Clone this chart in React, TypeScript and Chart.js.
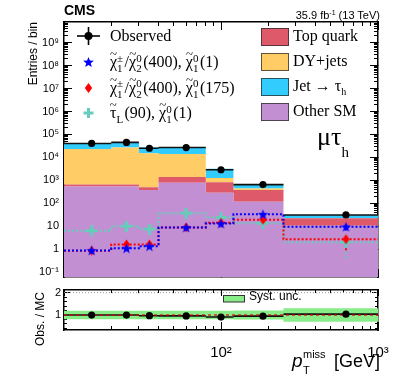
import React, { useEffect, useRef } from 'react';
import { Chart, registerables } from 'chart.js';

Chart.register(...registerables);

// ---------------- data ----------------
const binEdges = [10, 20, 30, 40, 80, 120, 250, 1000];
const otherSM = [535, 535, 375, 775, 285, 117, 10.5];
const topQuark = [115, 115, 130, 625, 545, 258, 11.5];
const dyJets = [22350, 26350, 14500, 12600, 430, 65, 0.5];
const jetTau = [18000, 18000, 12000, 13000, 1940, 210, 8.5];
const observed = [40500, 45000, 25000, 26900, 2900, 650, 31];
const sigChargino1 = [0.88, 1.1, 1.35, 8.8, 13, 33, 9.5];
const sigChargino1Err = [0.15, 0.2, 0.25, 1.0, 1.5, 3, 3];
const sigChargino175 = [0.85, 1.6, 1.6, 8.8, 14, 19, 2.7];
const sigChargino175Err = [0.15, 0.3, 0.3, 1.0, 1.5, 2.5, 1.8];
const sigStau = [6.4, 10, 7.5, 37, 24, 13.6, 2.0];
const sigStauErr = [1.0, 1.5, 1.2, 4, 3, 2.5, 1.6];
const ratio = [1.0, 1.0, 0.97, 0.96, 0.91, 0.95, 1.04];
const systUnc = [0.19, 0.19, 0.19, 0.19, 0.19, 0.2, 0.3];

const mainYTickValues = [0.1, 1, 10, 1e2, 1e3, 1e4, 1e5, 1e6, 1e7, 1e8, 1e9];
const mainYTickLabels = ['10⁻¹', '1', '10', '10²', '10³', '10⁴', '10⁵', '10⁶', '10⁷', '10⁸', '10⁹'];
const xMajorTicks = [10, 100, 1000];
const xTickValues = [100, 1000];
const xTickLabels = ['10²', '10³'];
const ratioYTickValues = [1, 2];
const ratioYTickLabels = ['1', '2'];
const ratioYMinorTicks = [0.4, 0.6, 0.8, 1.2, 1.4, 1.6, 1.8];
const ratioRefLine = 2;
const ratioUnity = 1;

const xMin = 10;
const xMax = 1000;
const yMin = 0.061;
const yMax = 8e9;
const rMin = 0.33;
const rMax = 2.12;

// ---------------- styles ----------------
const SANS = "'Liberation Sans', Arial, Helvetica, sans-serif";
const SERIF = "'Liberation Serif', 'Times New Roman', serif";
const C_OTHER = '#c28fd2';
const C_TOP = '#de5a6b';
const C_DY = '#ffcc66';
const C_JET = '#33ccff';
const C_BLUE = '#0000ff';
const C_RED = '#ff0000';
const C_CYAN = '#66ccbb';
const C_BAND = '#88ec88';

Chart.defaults.font.family = SANS;

// ---------------- helpers ----------------
const nBins = binEdges.length - 1;
const centers = binEdges.slice(0, -1).map((e, i) => (e + binEdges[i + 1]) / 2);
const stepData = (vals: number[]) => [
  ...vals.map((v, i) => ({ x: binEdges[i], y: v })),
  { x: binEdges[nBins], y: vals[nBins - 1] },
];
const cumulate = (...arrs: number[][]) => arrs[0].map((_, i) => arrs.reduce((s, a) => s + a[i], 0));
const hSegs = (vals: number[]) =>
  vals.flatMap((v, i) => [
    { x: binEdges[i], y: v },
    { x: binEdges[i + 1], y: v },
    { x: binEdges[i + 1], y: null },
  ]);
const vSegs = (vals: number[], errs: number[]) =>
  vals.flatMap((v, i) => [
    { x: centers[i], y: Math.max(v - errs[i], 1e-3) },
    { x: centers[i], y: v + errs[i] },
    { x: centers[i], y: null },
  ]);
const pts = (vals: number[]) => vals.map((v, i) => ({ x: centers[i], y: v }));
const minorLog = (lo: number, hi: number) => {
  const out: number[] = [];
  for (let e = Math.floor(Math.log10(lo)); e <= Math.ceil(Math.log10(hi)); e++) {
    for (let m = 2; m <= 9; m++) {
      const v = m * Math.pow(10, e);
      if (v > lo && v < hi) out.push(v);
    }
  }
  return out;
};

function axis(c: any) {
  return {
    type: c.type,
    position: c.position,
    min: c.min,
    max: c.max,
    bounds: 'data',
    weight: c.weight ?? 0,
    afterBuildTicks: (s: any) => {
      s.ticks = c.values.map((v: number) => ({ value: v }));
    },
    afterFit: (s: any) => {
      if (c.position === 'left' || c.position === 'right') s.width = c.size;
      else s.height = c.size;
      s.paddingTop = 0;
      s.paddingBottom = 0;
      s.paddingLeft = 0;
      s.paddingRight = 0;
    },
    grid: {
      display: true,
      drawOnChartArea: false,
      drawTicks: true,
      tickLength: -c.len,
      tickColor: '#000',
      tickWidth: 1,
    },
    border: { display: !!c.border, color: '#000', width: 1.5 },
    ticks: c.labels
      ? {
          display: true,
          autoSkip: false,
          maxRotation: 0,
          minRotation: 0,
          padding: c.padding ?? 0,
          color: '#000',
          font: { size: c.fontSize ?? 11, family: SANS },
          callback: (_v: any, i: number) => c.labels[i],
        }
      : { display: false, autoSkip: false },
    title: c.title ?? { display: false },
  };
}

function markerCanvas(draw: (g: CanvasRenderingContext2D, s: number) => void, s: number) {
  const cv = document.createElement('canvas');
  cv.width = s;
  cv.height = s;
  const g = cv.getContext('2d')!;
  draw(g, s);
  return cv;
}

function Txt(p: any) {
  const family = p.family ?? SANS;
  const k = family === SERIF ? 0.8375 : 0.8465;
  const style: any = {
    position: 'absolute',
    top: p.baseline - k * p.size,
    fontSize: p.size,
    lineHeight: `${p.size}px`,
    fontFamily: family,
    whiteSpace: 'nowrap',
    color: p.color ?? '#000',
    fontStyle: p.italic ? 'italic' : 'normal',
    fontWeight: p.bold ? 'bold' : 'normal',
  };
  if (p.right !== undefined) style.right = 399 - p.right;
  else style.left = p.x;
  return <div style={style}>{p.children}</div>;
}

function SS(p: any) {
  const f = p.f ?? 11;
  const raise = p.raise ?? 5;
  const drop = p.drop ?? 5.5;
  const k = (p.family ?? SERIF) === SERIF ? 0.8375 : 0.8465;
  const base: any = { position: 'absolute', left: 0, fontSize: f, lineHeight: `${f}px`, whiteSpace: 'nowrap', fontStyle: 'normal' };
  return (
    <span style={{ position: 'relative', display: 'inline-block', width: p.w, height: 0 }}>
      {p.sup != null && <span style={{ ...base, top: -raise - k * f }}>{p.sup}</span>}
      {p.sub != null && <span style={{ ...base, top: drop - k * f }}>{p.sub}</span>}
    </span>
  );
}

// Greek letter with a tilde placed above it
function Tilde(p: any) {
  return (
    <span style={{ position: 'relative', display: 'inline-block' }}>
      {p.children}
      <span style={{ position: 'absolute', left: '50%', top: p.top ?? -8, transform: 'translateX(-50%)', fontSize: '0.8em' }}>~</span>
    </span>
  );
}

export default function App() {
  const mainRef = useRef<HTMLCanvasElement>(null);
  const ratioRef = useRef<HTMLCanvasElement>(null);

  useEffect(() => {
    const starImg = markerCanvas((g, s) => {
      g.fillStyle = C_BLUE;
      g.beginPath();
      for (let i = 0; i < 10; i++) {
        const a = -Math.PI / 2 + (i * Math.PI) / 5;
        const r = i % 2 ? s * 0.21 : s * 0.5;
        g.lineTo(s / 2 + r * Math.cos(a), s / 2 + r * Math.sin(a) + s * 0.05);
      }
      g.closePath();
      g.fill();
    }, 11);
    const diamondImg = markerCanvas((g, s) => {
      g.fillStyle = C_RED;
      g.beginPath();
      g.moveTo(s / 2, 0.5);
      g.lineTo(s / 2 + 3.6, s / 2);
      g.lineTo(s / 2, s - 0.5);
      g.lineTo(s / 2 - 3.6, s / 2);
      g.closePath();
      g.fill();
    }, 11);
    const crossImg = markerCanvas((g, s) => {
      g.fillStyle = C_CYAN;
      g.fillRect(s / 2 - 1.5, 0, 3, s);
      g.fillRect(0, s / 2 - 1.5, s, 3);
    }, 11);

    const cumOther = otherSM;
    const cumTop = cumulate(otherSM, topQuark);
    const cumDY = cumulate(otherSM, topQuark, dyJets);
    const cumJet = cumulate(otherSM, topQuark, dyJets, jetTau);

    const stackDs = (vals: number[], color: string, fill: any) => ({
      data: stepData(vals),
      stepped: true,
      fill,
      backgroundColor: color,
      borderColor: 'rgba(0,0,0,0)',
      borderWidth: 0,
      pointRadius: 0,
      order: 100,
    });
    const sigLine = (vals: number[], color: string) => ({
      data: stepData(vals),
      stepped: true,
      fill: false,
      borderColor: color,
      borderWidth: 2,
      borderDash: [2, 2],
      pointRadius: 0,
      order: 50,
    });
    const sigErr = (vals: number[], errs: number[], color: string) => ({
      data: vSegs(vals, errs),
      fill: false,
      borderColor: color,
      borderWidth: 2,
      borderDash: [2, 2],
      pointRadius: 0,
      spanGaps: false,
      order: 45,
    });
    const sigPts = (vals: number[], img: any) => ({
      data: pts(vals),
      showLine: false,
      pointStyle: img,
      pointRadius: 5,
      order: 40,
    });

    const majorX = xMajorTicks;
    const minorX = minorLog(xMin, xMax);
    const minorY = minorLog(yMin, yMax);

    const main = new Chart(mainRef.current!, {
      type: 'line',
      data: {
        datasets: [
          stackDs(cumOther, C_OTHER, 'start'),
          stackDs(cumTop, C_TOP, '-1'),
          stackDs(cumDY, C_DY, '-1'),
          stackDs(cumJet, C_JET, '-1'),
          sigLine(sigChargino1, C_BLUE),
          sigLine(sigChargino175, C_RED),
          sigLine(sigStau, C_CYAN),
          sigErr(sigChargino1, sigChargino1Err, C_BLUE),
          sigErr(sigChargino175, sigChargino175Err, C_RED),
          sigErr(sigStau, sigStauErr, C_CYAN),
          sigPts(sigChargino1, starImg),
          sigPts(sigChargino175, diamondImg),
          sigPts(sigStau, crossImg),
          {
            data: hSegs(observed),
            borderColor: '#111',
            borderWidth: 1.6,
            pointRadius: 0,
            spanGaps: false,
            fill: false,
            order: 20,
          },
          {
            data: pts(observed),
            showLine: false,
            pointRadius: 3.6,
            pointBackgroundColor: '#000',
            pointBorderColor: '#000',
            pointBorderWidth: 0,
            order: 10,
          },
        ] as any,
      },
      options: {
        animation: false,
        responsive: false,
        events: [],
        layout: { padding: { top: 22, right: 21, bottom: 3, left: 0 } },
        plugins: { legend: { display: false }, tooltip: { enabled: false } },
        elements: { line: { tension: 0 } },
        scales: {
          x: axis({ type: 'logarithmic', position: 'bottom', min: xMin, max: xMax, values: majorX, len: 8, size: 0, weight: 1, border: true }),
          xMinor: axis({ type: 'logarithmic', position: 'bottom', min: xMin, max: xMax, values: minorX, len: 4, size: 0, weight: 0 }),
          xTop: axis({ type: 'logarithmic', position: 'top', min: xMin, max: xMax, values: majorX, len: 8, size: 0, weight: 1, border: true }),
          xTopMinor: axis({ type: 'logarithmic', position: 'top', min: xMin, max: xMax, values: minorX, len: 4, size: 0, weight: 0 }),
          y: axis({
            type: 'logarithmic', position: 'left', min: yMin, max: yMax, values: mainYTickValues, labels: mainYTickLabels,
            len: 8, size: 64, weight: 1, border: true, padding: 13, fontSize: 11,
            title: { display: true, text: 'Entries / bin', align: 'end', color: '#000', font: { size: 12, family: SANS }, padding: { top: 26, bottom: 0 } },
          }),
          yMinor: axis({ type: 'logarithmic', position: 'left', min: yMin, max: yMax, values: minorY, len: 4, size: 0, weight: 0 }),
          yR: axis({ type: 'logarithmic', position: 'right', min: yMin, max: yMax, values: mainYTickValues, len: 8, size: 0, weight: 1, border: true }),
          yRMinor: axis({ type: 'logarithmic', position: 'right', min: yMin, max: yMax, values: minorY, len: 4, size: 0, weight: 0 }),
        } as any,
      } as any,
    });

    const bandLo = systUnc.map((u) => ratioUnity - u);
    const bandHi = systUnc.map((u) => ratioUnity + u);
    const ratioChart = new Chart(ratioRef.current!, {
      type: 'line',
      data: {
        datasets: [
          { data: stepData(bandLo), stepped: true, fill: false, borderWidth: 0, borderColor: 'rgba(0,0,0,0)', pointRadius: 0, order: 100 },
          { data: stepData(bandHi), stepped: true, fill: '-1', backgroundColor: C_BAND, borderWidth: 0, borderColor: 'rgba(0,0,0,0)', pointRadius: 0, order: 100 },
          {
            data: [{ x: xMin, y: ratioRefLine }, { x: xMax, y: ratioRefLine }],
            borderColor: '#999', borderWidth: 1, borderDash: [1, 2], pointRadius: 0, fill: false, order: 60,
          },
          { data: hSegs(ratio), borderColor: '#111', borderWidth: 1.6, pointRadius: 0, spanGaps: false, fill: false, order: 30 },
          {
            data: [{ x: xMin, y: ratioUnity }, { x: xMax, y: ratioUnity }],
            borderColor: '#e00000', borderWidth: 1.2, borderDash: [3, 3], pointRadius: 0, fill: false, order: 20,
          },
          { data: pts(ratio), showLine: false, pointRadius: 3.6, pointBackgroundColor: '#000', pointBorderColor: '#000', pointBorderWidth: 0, order: 10 },
        ] as any,
      },
      options: {
        animation: false,
        responsive: false,
        events: [],
        layout: { padding: { top: 8, right: 21, bottom: 0, left: 0 } },
        plugins: { legend: { display: false }, tooltip: { enabled: false } },
        elements: { line: { tension: 0 } },
        scales: {
          x: axis({ type: 'logarithmic', position: 'bottom', min: xMin, max: xMax, values: xTickValues, labels: xTickLabels, len: 8, size: 53, weight: 1, border: true, padding: 22, fontSize: 15 }),
          xMinor: axis({ type: 'logarithmic', position: 'bottom', min: xMin, max: xMax, values: minorX, len: 4, size: 0, weight: 0 }),
          xTop: axis({ type: 'logarithmic', position: 'top', min: xMin, max: xMax, values: majorX, len: 6, size: 0, weight: 1, border: true }),
          xTopMinor: axis({ type: 'logarithmic', position: 'top', min: xMin, max: xMax, values: minorX, len: 3, size: 0, weight: 0 }),
          y: axis({ type: 'linear', position: 'left', min: rMin, max: rMax, values: ratioYTickValues, labels: ratioYTickLabels, len: 6, size: 64, weight: 1, border: true, padding: 9, fontSize: 11 }),
          yMinor: axis({ type: 'linear', position: 'left', min: rMin, max: rMax, values: ratioYMinorTicks, len: 3, size: 0, weight: 0 }),
          yR: axis({ type: 'linear', position: 'right', min: rMin, max: rMax, values: ratioYTickValues, len: 6, size: 0, weight: 1, border: true }),
          yRMinor: axis({ type: 'linear', position: 'right', min: rMin, max: rMax, values: ratioYMinorTicks, len: 3, size: 0, weight: 0 }),
        } as any,
      } as any,
    });

    return () => {
      main.destroy();
      ratioChart.destroy();
    };
  }, []);

  const boxStyle = (top: number, color: string): any => ({
    position: 'absolute', left: 261, top, width: 26, height: 16, background: color, border: '1px solid rgba(40,40,40,0.75)',
  });

  return (
    <div style={{ position: 'absolute', left: 0, top: 0, width: 399, height: 383, background: '#fff', overflow: 'hidden' }}>
      <canvas ref={mainRef} width={399} height={283} style={{ position: 'absolute', left: 0, top: 0 }} />
      <canvas ref={ratioRef} width={399} height={101} style={{ position: 'absolute', left: 0, top: 282 }} />

      {/* header */}
      <Txt x={64} baseline={15} size={14} bold>CMS</Txt>
      <Txt right={380} baseline={16} size={11}>
        35.9 fb<span style={{ fontSize: 7, verticalAlign: 4 }}>-1</span> (13 TeV)
      </Txt>

      {/* legend markers */}
      <svg width={399} height={383} style={{ position: 'absolute', left: 0, top: 0, pointerEvents: 'none' }}>
        <line x1={77} y1={36} x2={100} y2={36} stroke="#000" strokeWidth={1.6} />
        <line x1={88.5} y1={27} x2={88.5} y2={45} stroke="#000" strokeWidth={1.6} />
        <circle cx={88.5} cy={36} r={4} fill="#000" />
        <polygon
          fill={C_BLUE}
          points={Array.from({ length: 10 }, (_, i) => {
            const a = -Math.PI / 2 + (i * Math.PI) / 5;
            const r = i % 2 ? 2.4 : 5.6;
            return `${88.5 + r * Math.cos(a)},${62.5 + r * Math.sin(a)}`;
          }).join(' ')}
        />
        <polygon fill={C_RED} points="88.5,83 92.2,88 88.5,93 84.8,88" />
        <rect x={87} y={108} width={3} height={10} fill={C_CYAN} />
        <rect x={83.5} y={111.5} width={10} height={3} fill={C_CYAN} />
        {/* syst unc box */}
        <rect x={223.5} y={295.5} width={21} height={6.5} fill={C_BAND} stroke="#333" strokeWidth={1} />
      </svg>

      {/* legend left column */}
      <Txt x={110} baseline={41.7} size={16} family={SERIF}>Observed</Txt>
      <Txt x={110} baseline={67.5} size={16} family={SERIF}>
        <Tilde>χ</Tilde><SS sup="±" sub="1" w={7.5} />/<Tilde>χ</Tilde><SS sup="0" sub="2" w={7} />(400), <Tilde>χ</Tilde><SS sup="0" sub="1" w={7} />(1)
      </Txt>
      <Txt x={110} baseline={93} size={16} family={SERIF}>
        <Tilde>χ</Tilde><SS sup="±" sub="1" w={7.5} />/<Tilde>χ</Tilde><SS sup="0" sub="2" w={7} />(400), <Tilde>χ</Tilde><SS sup="0" sub="1" w={7} />(175)
      </Txt>
      <Txt x={110} baseline={118.3} size={16} family={SERIF}>
        <Tilde>τ</Tilde><SS sub="L" w={8} />(90), <Tilde>χ</Tilde><SS sup="0" sub="1" w={7} />(1)
      </Txt>

      {/* legend right column */}
      <div style={boxStyle(28, C_TOP)} />
      <div style={boxStyle(53, C_DY)} />
      <div style={boxStyle(78, C_JET)} />
      <div style={boxStyle(103, C_OTHER)} />
      <Txt x={293} baseline={41.3} size={16} family={SERIF}>Top quark</Txt>
      <Txt x={293} baseline={66.3} size={16} family={SERIF}>DY+jets</Txt>
      <Txt x={293} baseline={91.3} size={16} family={SERIF}>
        Jet → τ<SS sub="h" w={6} f={10} drop={4.5} />
      </Txt>
      <Txt x={293} baseline={116.4} size={16} family={SERIF}>Other SM</Txt>

      {/* channel label */}
      <Txt x={317} baseline={146} size={26} family={SERIF}>
        μτ<SS sub="h" w={8} f={15} drop={12} />
      </Txt>

      {/* ratio legend */}
      <Txt x={249} baseline={300.5} size={12}>Syst. unc.</Txt>

      {/* ratio y title */}
      <div
        style={{
          position: 'absolute', left: 40, top: 318.5, transform: 'translate(-50%, -50%) rotate(-90deg)',
          fontFamily: SANS, fontSize: 12, lineHeight: '12px', whiteSpace: 'nowrap', color: '#000',
        }}
      >
        Obs. / MC
      </div>

      {/* x title */}
      <Txt x={292} baseline={367} size={19} italic>p</Txt>
      <Txt x={303} baseline={358} size={11}>miss</Txt>
      <Txt x={303} baseline={374} size={11}>T</Txt>
      <Txt right={380} baseline={367} size={18}>[GeV]</Txt>
    </div>
  );
}
